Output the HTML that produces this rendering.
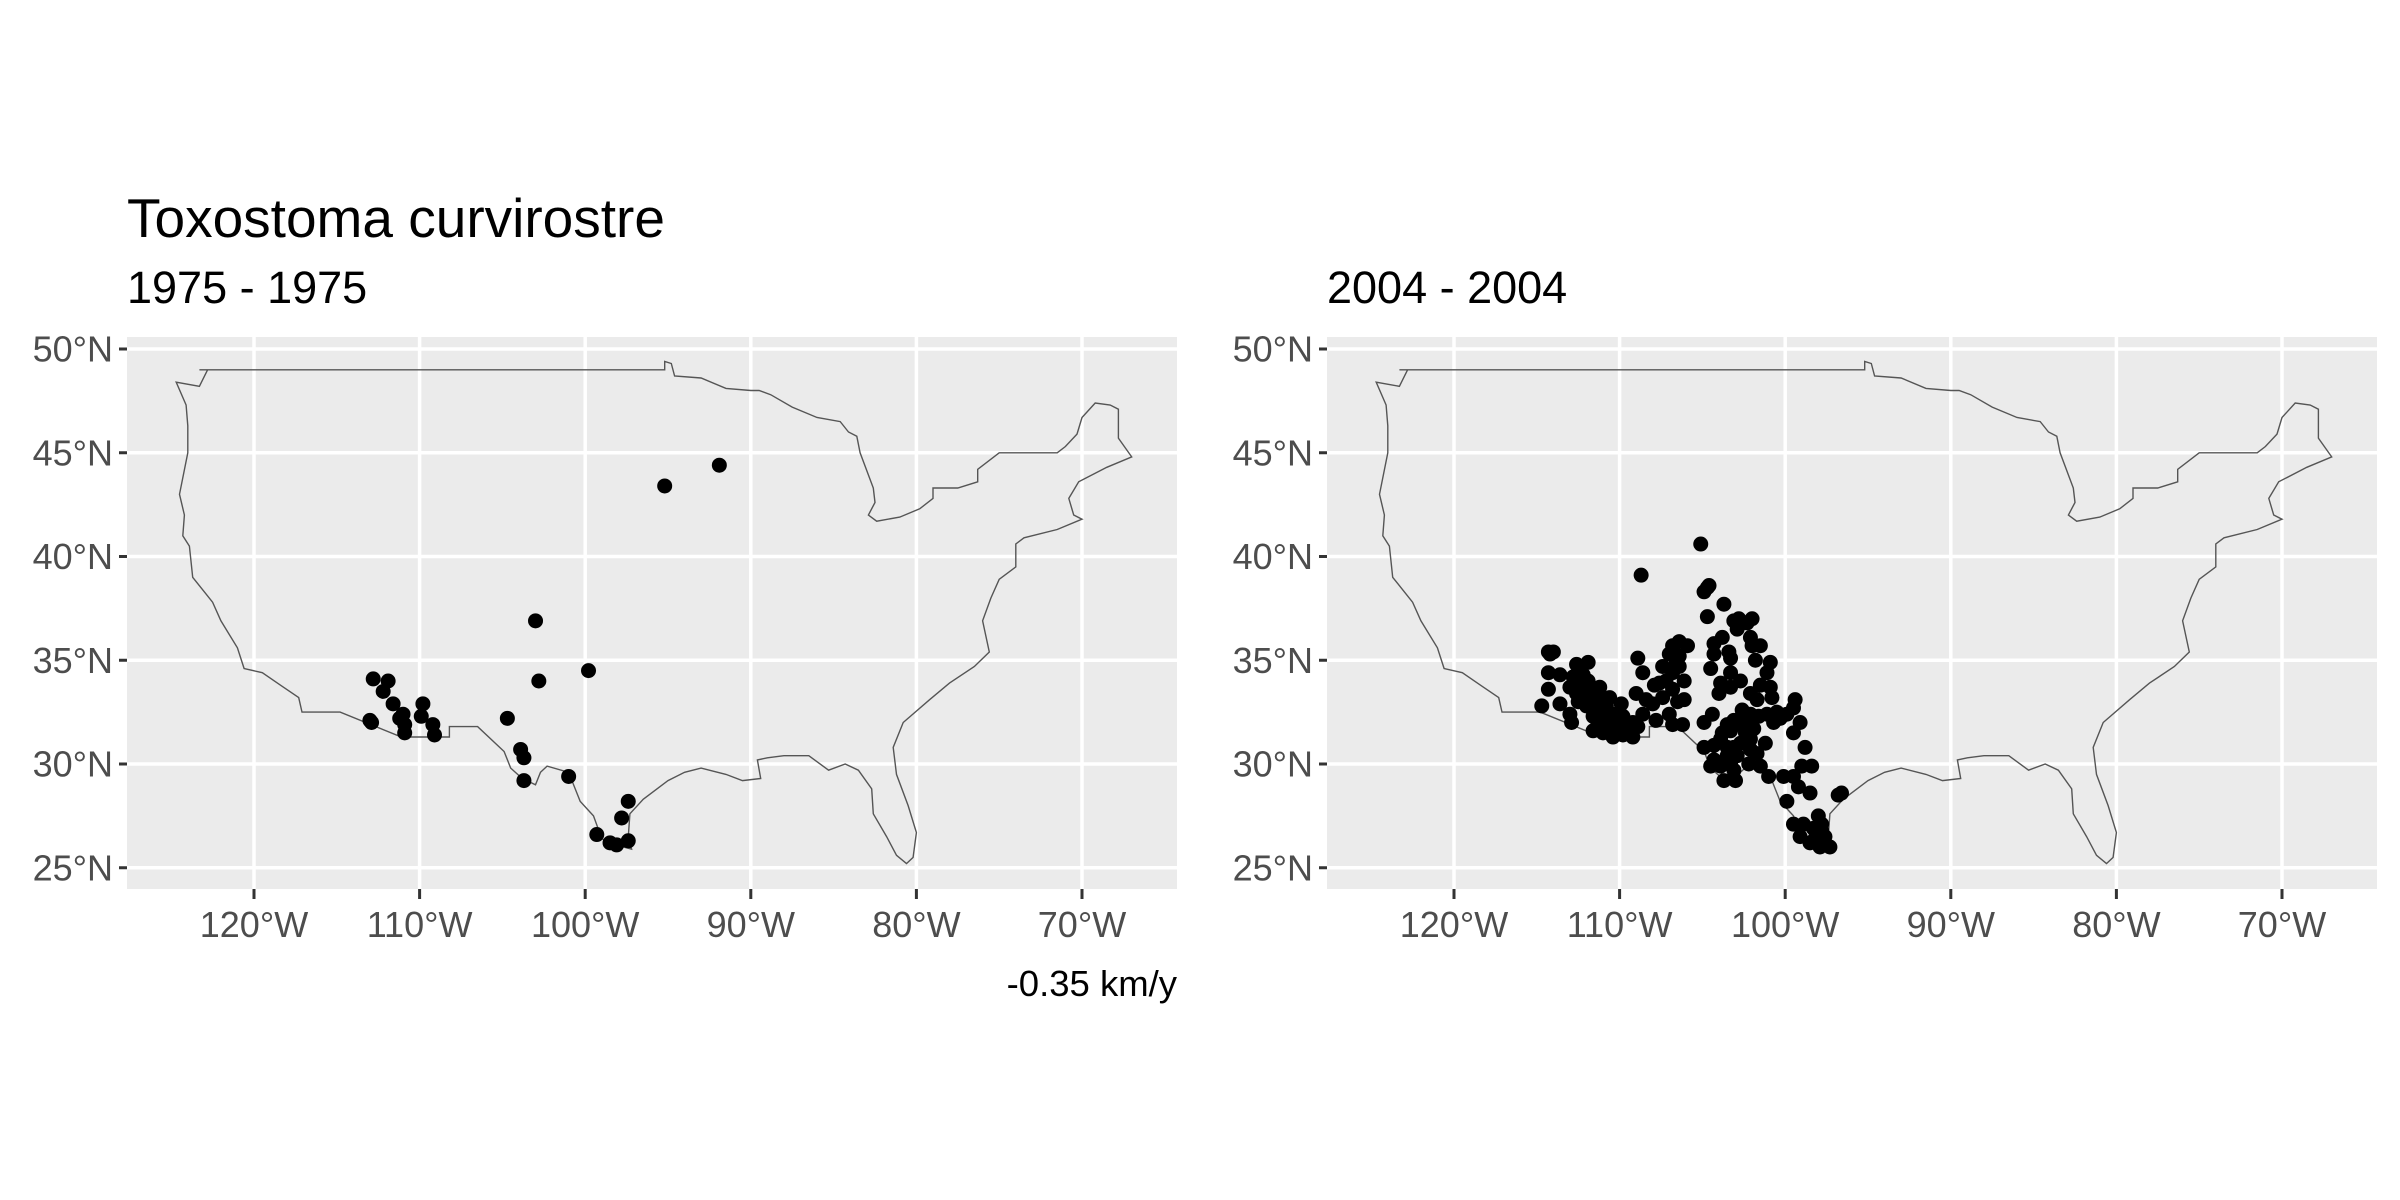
<!DOCTYPE html>
<html><head><meta charset="utf-8"><style>
html,body{margin:0;padding:0;background:#fff;}
svg{display:block;font-family:"Liberation Sans",sans-serif;}
</style></head><body>
<svg id="chart" width="2400" height="1200" viewBox="0 0 2400 1200" xmlns="http://www.w3.org/2000/svg">
<rect x="0" y="0" width="2400" height="1200" fill="#fff"/>
<text x="127" y="237" font-size="55" fill="#000">Toxostoma curvirostre</text>
<text x="127" y="303" font-size="45" fill="#000">1975 - 1975</text>
<text x="1327" y="303" font-size="45" fill="#000">2004 - 2004</text>
<text x="1177" y="996" font-size="36.5" fill="#000" text-anchor="end">-0.35 km/y</text>
<g id="left"></g>
<g id="right"></g>
</svg>
<script>
const lonTicks = [-120, -110, -100, -90, -80, -70];
const lonTickLabels = ["120°W", "110°W", "100°W", "90°W", "80°W", "70°W"];
const latTicks = [50, 45, 40, 35, 30, 25];
const latTickLabels = ["50°N", "45°N", "40°N", "35°N", "30°N", "25°N"];

const lon1975 = [-91.9,-95.2,-103.0,-102.8,-99.8,-112.8,-111.9,-112.2,-111.6,-111.0,-110.9,-110.9,-109.8,-109.9,-109.2,-109.1,-113.0,-112.9,-104.7,-103.9,-103.7,-103.7,-101.0,-99.3,-98.5,-98.1,-97.4,-97.8,-97.4,-111.2];
const lat1975 = [44.4,43.4,36.9,34.0,34.5,34.1,34.0,33.5,32.9,32.4,31.9,31.5,32.9,32.3,31.9,31.4,32.1,32.0,32.2,30.7,30.3,29.2,29.4,26.6,26.2,26.1,26.3,27.4,28.2,32.2];

const lon2004 = [-105.1,-108.7,-104.7,-104.6,-104.9,-103.7,-104.7,-103.1,-102.8,-102.0,-102.3,-102.9,-102.1,-102.0,-101.5,-101.8,-100.9,-101.1,-104.3,-103.8,-103.4,-104.3,-103.3,-104.5,-103.3,-103.9,-103.3,-104.0,-102.7,-102.1,-101.5,-100.9,-100.8,-101.7,-102.1,-101.1,-100.5,-99.9,-99.4,-99.5,-99.1,-99.5,-98.8,-99.0,-98.4,-99.5,-99.2,-100.1,-99.9,-98.5,-96.8,-96.6,-98.0,-97.8,-99.5,-98.9,-99.1,-98.5,-97.9,-97.3,-97.6,
-104.9,-104.4,-103.5,-103.1,-102.7,-103.3,-102.3,-101.6,-101.9,-100.7,-104.9,-104.3,-103.9,-103.5,-103.1,-102.7,-102.1,-102.1,-101.7,-104.3,-103.9,-103.3,-103.7,-103.0,-104.5,-103.1,-102.2,-101.5,-101.0,-103.5,
-114.3,-114.0,-114.2,-114.3,-113.6,-114.3,-114.7,-113.6,-113.0,-112.9,-112.6,-111.9,-112.8,-112.2,-113.0,-112.4,-111.9,-111.2,-112.6,-111.8,-111.2,-110.6,-109.9,-112.0,-111.4,-110.8,-111.6,-111.0,-110.4,-109.8,-109.2,-111.6,-111.0,-110.4,-109.8,-109.2,-111.3,-110.6,-110.0,-109.4,-108.9,
-108.9,-108.6,-109.0,-108.4,-108.6,-108.0,-107.8,-107.4,-106.8,-107.0,-106.8,-106.2,-106.1,-106.1,-106.8,-107.2,-107.6,-107.4,-107.0,-106.8,-106.4,-105.9,-106.4,-106.4,-106.6,
-102.6,-102.4,-100.3,-98.2,-97.8,-98.3,-103.8,-102.9,-101.2,-106.5,-110.5,-111.3,-112.5,-107.9];
const lat2004 = [40.6,39.1,38.5,38.6,38.3,37.7,37.1,36.9,37.0,37.0,36.8,36.5,36.1,35.7,35.7,35.0,34.9,34.4,35.8,36.1,35.4,35.3,35.1,34.6,34.4,33.9,33.7,33.4,34.0,33.4,33.8,33.7,33.2,33.1,32.4,32.4,32.5,32.4,33.1,32.7,32.0,31.5,30.8,29.9,29.9,29.4,28.9,29.4,28.2,28.6,28.5,28.6,27.5,27.1,27.1,27.1,26.5,26.2,26.0,26.0,26.5,
32.0,32.4,31.9,32.1,31.9,31.6,32.1,32.3,31.7,32.0,30.8,30.9,31.2,30.8,30.8,31.0,31.2,30.7,30.5,30.2,29.9,30.0,29.2,29.2,29.9,29.7,30.0,29.9,29.4,30.4,
35.4,35.4,35.3,34.4,34.3,33.6,32.8,32.9,32.4,32.0,34.8,34.9,34.2,34.3,33.7,33.7,34.0,33.7,33.4,33.4,33.2,33.2,32.9,32.8,32.9,32.8,32.3,32.4,32.4,32.3,32.0,31.6,31.5,31.3,31.4,31.3,31.9,31.8,31.8,31.6,31.8,
35.1,34.4,33.4,33.1,32.4,32.9,32.1,33.2,33.6,32.4,31.9,31.9,33.1,34.0,34.4,34.0,33.9,34.7,35.3,35.7,35.9,35.7,35.2,34.7,34.8,
32.6,31.5,32.2,26.4,26.8,26.9,31.5,30.4,31.0,33.0,32.0,32.5,33.0,33.8];

const usOutline = [[-123.3,49.0],[-95.2,49.0],[-95.2,49.4],[-94.8,49.3],[-94.6,48.7],[-93.0,48.6],[-91.5,48.1],[-90.0,48.0],[-89.5,48.0],[-88.8,47.8],[-87.5,47.2],[-86.0,46.7],[-84.6,46.5],[-84.1,46.0],[-83.6,45.8],[-83.4,45.0],[-82.6,43.3],[-82.5,42.6],[-82.9,42.0],[-82.4,41.7],[-81.0,41.9],[-79.8,42.3],[-79.0,42.8],[-79.0,43.3],[-77.5,43.3],[-76.3,43.6],[-76.3,44.2],[-75.0,45.0],[-71.5,45.0],[-71.0,45.3],[-70.3,45.9],[-70.0,46.7],[-69.2,47.4],[-68.3,47.3],[-67.8,47.1],[-67.8,45.7],[-67.0,44.8],[-68.5,44.3],[-70.2,43.6],[-70.8,42.8],[-70.5,42.0],[-70.0,41.8],[-71.5,41.3],[-73.5,40.9],[-74.0,40.6],[-74.0,39.5],[-75.0,38.9],[-75.5,38.0],[-76.0,36.9],[-75.6,35.4],[-76.5,34.7],[-78.0,33.9],[-79.2,33.1],[-80.8,32.0],[-81.4,30.8],[-81.2,29.5],[-80.5,28.0],[-80.0,26.7],[-80.2,25.5],[-80.6,25.2],[-81.2,25.6],[-81.8,26.5],[-82.6,27.6],[-82.7,28.8],[-83.5,29.7],[-84.3,30.0],[-85.3,29.7],[-86.5,30.4],[-88.0,30.4],[-89.0,30.3],[-89.6,30.2],[-89.4,29.3],[-90.5,29.2],[-91.5,29.5],[-93.0,29.8],[-94.0,29.6],[-95.0,29.2],[-96.5,28.3],[-97.3,27.6],[-97.4,26.5],[-97.2,25.9],[-98.2,26.1],[-99.0,26.4],[-99.5,27.5],[-100.3,28.2],[-101.0,29.6],[-102.3,29.9],[-102.7,29.6],[-103.0,29.0],[-103.8,29.3],[-104.5,29.8],[-104.9,30.6],[-106.5,31.8],[-108.2,31.8],[-108.2,31.3],[-111.1,31.3],[-114.8,32.5],[-117.1,32.5],[-117.3,33.2],[-118.4,33.8],[-119.5,34.4],[-120.6,34.6],[-121.0,35.6],[-122.0,36.9],[-122.5,37.8],[-123.0,38.3],[-123.7,39.0],[-123.9,40.5],[-124.3,41.0],[-124.2,42.0],[-124.5,43.0],[-124.0,45.0],[-124.0,46.3],[-124.1,47.3],[-124.7,48.4],[-123.3,48.2],[-122.8,49.0],[-123.3,49.0]];

const NS = "http://www.w3.org/2000/svg";
function mk(tag, attrs, parent) {
  const e = document.createElementNS(NS, tag);
  for (const k in attrs) e.setAttribute(k, attrs[k]);
  parent.appendChild(e);
  return e;
}
function drawPanel(g, offsetX, lons, lats, prefix) {
  const panelL = 127 + offsetX, panelR = 1177 + offsetX, panelT = 337, panelB = 889;
  const xs = lon => 254 + offsetX + (lon + 120) * 16.56;
  const ys = lat => 349 + (50 - lat) * 20.75;
  const bg = mk('rect', {x: panelL, y: panelT, width: panelR - panelL, height: panelB - panelT, fill: '#ebebeb'}, g);
  
  
  latTicks.forEach((v, i) => {
    const y = ys(v);
    const gl = mk('line', {x1: panelL, x2: panelR, y1: y, y2: y, stroke: '#fff', 'stroke-width': 3.5}, g);
    
    
    const tk = mk('line', {x1: panelL - 8, x2: panelL, y1: y, y2: y, stroke: '#333', 'stroke-width': 3}, g);
    
    
    const t = mk('text', {x: panelL - 14, y: y + 12.5, 'font-size': 36, fill: '#4d4d4d', 'text-anchor': 'end'}, g);
    t.textContent = latTickLabels[i];
    
    
  });
  lonTicks.forEach((v, i) => {
    const x = xs(v);
    const gl = mk('line', {x1: x, x2: x, y1: panelT, y2: panelB, stroke: '#fff', 'stroke-width': 3.5}, g);
    
    
    const tk = mk('line', {x1: x, x2: x, y1: panelB, y2: panelB + 10, stroke: '#333', 'stroke-width': 3}, g);
    
    
    const t = mk('text', {x: x, y: 937, 'font-size': 36, fill: '#4d4d4d', 'text-anchor': 'middle'}, g);
    t.textContent = lonTickLabels[i];
    
    
  });
  const d = usOutline.map((p, i) => (i ? 'L' : 'M') + xs(p[0]).toFixed(1) + ',' + ys(p[1]).toFixed(1)).join('') + 'Z';
  const path = mk('path', {d: d, fill: 'none', stroke: '#555', 'stroke-width': 1.4}, g);
  
  
  lons.forEach((lon, i) => {
    const c = mk('circle', {cx: xs(lon), cy: ys(lats[i]), r: 7.5, fill: '#000'}, g);
    
    
  });
}
drawPanel(document.getElementById('left'), 0, lon1975, lat1975, 'left');
drawPanel(document.getElementById('right'), 1200, lon2004, lat2004, 'right');
</script>
</body></html>
